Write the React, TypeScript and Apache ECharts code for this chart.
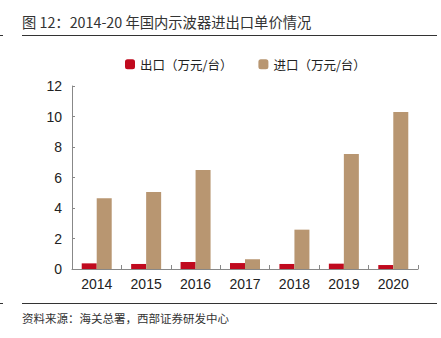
import React, { useEffect, useRef } from "react";
import * as echarts from "echarts";

const categories = ["2014", "2015", "2016", "2017", "2018", "2019", "2020"];
const exportPrice = [0.37, 0.33, 0.46, 0.39, 0.33, 0.35, 0.26];
const importPrice = [4.64, 5.05, 6.49, 0.64, 2.58, 7.54, 10.3];
const seriesNames = ["出口（万元/台）", "进口（万元/台）"];
const titleText = "图 12：2014-20 年国内示波器进出口单价情况";
const sourceText = "资料来源：海关总署，西部证券研发中心";

const CJK = "Noto Sans CJK SC, sans-serif";
const LATIN = "Liberation Sans, Arial, sans-serif";

export default function App() {
  const ref = useRef<HTMLDivElement>(null);
  useEffect(() => {
    if (!ref.current) return;
    const chart = echarts.init(ref.current, undefined, { renderer: "svg" });
    chart.setOption({
      animation: false,
      backgroundColor: "#ffffff",
      legend: {
        top: 53,
        left: 120,
        itemWidth: 10,
        itemHeight: 10,
        itemGap: 26,
        icon: "roundRect",
        textStyle: { fontFamily: CJK, fontSize: 12.5, color: "#222" },
        data: seriesNames,
      },
      grid: { left: 72, right: 23, top: 86, bottom: 69, containLabel: false },
      xAxis: {
        type: "category",
        data: categories,
        boundaryGap: true,
        axisLine: { show: true, lineStyle: { color: "#888", width: 1 } },
        axisTick: { show: true, inside: true, length: 4, interval: 0, lineStyle: { color: "#888" } },
        axisLabel: { fontFamily: LATIN, fontSize: 14, color: "#222", margin: 8, interval: 0 },
        splitLine: { show: false },
      },
      yAxis: {
        type: "value",
        min: 0,
        max: 12,
        interval: 2,
        axisLine: { show: true, lineStyle: { color: "#888", width: 1 } },
        axisTick: { show: true, inside: true, length: 3, lineStyle: { color: "#888" } },
        axisLabel: { fontFamily: LATIN, fontSize: 14, color: "#222", margin: 10 },
        splitLine: { show: false },
      },
      series: [
        {
          name: seriesNames[0],
          type: "bar",
          data: exportPrice,
          barWidth: 15,
          barGap: "0%",
          itemStyle: { color: "#C00A1E" },
        },
        {
          name: seriesNames[1],
          type: "bar",
          data: importPrice,
          barWidth: 15,
          barGap: "0%",
          itemStyle: { color: "#B89671" },
        },
      ],
      graphic: [
        {
          type: "text",
          left: 22,
          top: 14,
          style: { text: titleText, fontFamily: CJK, fontSize: 14.3, fill: "#333" },
        },
        { type: "line", shape: { x1: 22, y1: 35.5, x2: 437, y2: 35.5 }, style: { stroke: "#333", lineWidth: 1 } },
        { type: "line", shape: { x1: 0, y1: 35.5, x2: 3, y2: 35.5 }, style: { stroke: "#333", lineWidth: 1 } },
        { type: "line", shape: { x1: 22, y1: 303.5, x2: 437, y2: 303.5 }, style: { stroke: "#333", lineWidth: 1 } },
        { type: "line", shape: { x1: 0, y1: 303.5, x2: 3, y2: 303.5 }, style: { stroke: "#333", lineWidth: 1 } },
        {
          type: "text",
          left: 22,
          top: 312,
          style: { text: sourceText, fontFamily: CJK, fontSize: 11.5, fill: "#333" },
        },
      ],
    });
    return () => chart.dispose();
  }, []);
  return (
    <div
      ref={ref}
      style={{ position: "fixed", left: 0, top: 0, width: 441, height: 338 }}
    />
  );
}
